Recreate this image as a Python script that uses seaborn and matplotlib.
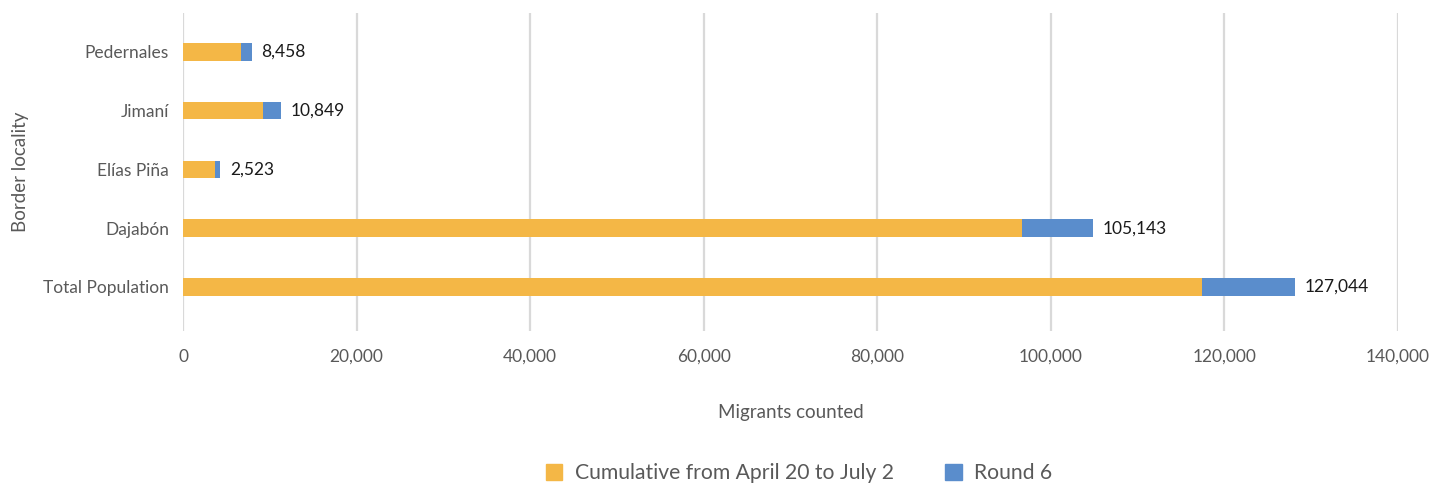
import matplotlib.pyplot as plt
import pandas as pd
import seaborn as sns
from matplotlib.patches import Patch

localities = ['Pedernales', 'Jimaní', 'Elías Piña', 'Dajabón', 'Total Population']
cumulative = [6670, 9230, 3740, 96700, 117400]
round6 = [1260, 2030, 540, 8200, 10700]
labels = ['8,458', '10,849', '2,523', '105,143', '127,044']

orange = '#F4B746'
blue = '#5A8DCC'
grey = '#595959'

df = pd.DataFrame({'locality': localities, 'cumulative': cumulative, 'round6': round6})
df['total'] = df['cumulative'] + df['round6']

sns.set_style('white')
plt.rcParams['font.family'] = ['Lato', 'DejaVu Sans']

fig = plt.figure(figsize=(14.49, 4.87), dpi=100)
ax = fig.add_axes([0.1263, 0.3203, 0.8385, 0.653])

# stacked bars: draw the total in blue, then the cumulative part over it
sns.barplot(data=df, y='locality', x='total', color=blue, width=0.3, orient='y', ax=ax,
            saturation=1, linewidth=0, zorder=3)
sns.barplot(data=df, y='locality', x='cumulative', color=orange, width=0.3, orient='y', ax=ax,
            saturation=1, linewidth=0, zorder=4)

for i, row in df.iterrows():
    ax.annotate(labels[i], xy=(row['total'], i), xytext=(7, 0), textcoords='offset points',
                ha='left', va='center', fontsize=12.5, color='#1a1a1a')

ax.set_xlim(0, 140000)
ax.set_ylim(4.75, -0.66)
ax.set_xticks(range(0, 140001, 20000))
ax.set_xticklabels([f'{v:,}' for v in range(0, 140001, 20000)])
ax.tick_params(axis='x', length=0, pad=13, labelsize=12.5, labelcolor=grey)
ax.tick_params(axis='y', length=0, pad=10, labelsize=12.5, labelcolor=grey)
ax.grid(axis='x', color='#D9D9D9', linewidth=1.6, zorder=0)
ax.grid(axis='y', visible=False)
for s in ax.spines.values():
    s.set_visible(False)

ax.set_xlabel('Migrants counted', fontsize=13.5, color=grey, labelpad=28)
ax.set_ylabel('Border locality', fontsize=13.5, color=grey, labelpad=10)

handles = [Patch(color=orange), Patch(color=blue)]
fig.legend(handles, ['Cumulative from April 20 to July 2', 'Round 6'], loc='center',
           bbox_to_anchor=(0.5514, 0.028), ncol=2, frameon=False, fontsize=15.2,
           labelcolor=grey, handlelength=0.8, handleheight=0.8, columnspacing=2.4,
           handletextpad=0.6)

plt.savefig('out.png', dpi=100)
